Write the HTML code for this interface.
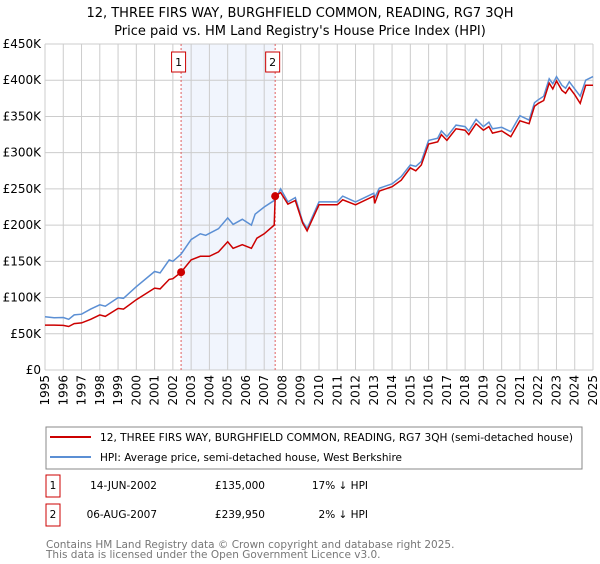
<!DOCTYPE html>
<html><head><meta charset="utf-8"><style>
body{margin:0;background:#fff;font-family:"DejaVu Sans","Liberation Sans",sans-serif;}
svg text{font-family:"DejaVu Sans","Liberation Sans",sans-serif;}
</style></head><body>
<svg id="c" width="600" height="560" xmlns="http://www.w3.org/2000/svg">
<text x="300" y="17" text-anchor="middle" font-size="13">12, THREE FIRS WAY, BURGHFIELD COMMON, READING, RG7 3QH</text>
<text x="300" y="35" text-anchor="middle" font-size="13">Price paid vs. HM Land Registry's House Price Index (HPI)</text>
<g id="plot"></g>
<g>
<rect x="46" y="427" width="536" height="42" fill="#fff" stroke="#888"/>
<line x1="50" y1="437" x2="91" y2="437" stroke="#cc0000" stroke-width="2"/>
<text x="100" y="441" font-size="10.5" textLength="473" lengthAdjust="spacingAndGlyphs">12, THREE FIRS WAY, BURGHFIELD COMMON, READING, RG7 3QH (semi-detached house)</text>
<line x1="50" y1="457" x2="91" y2="457" stroke="#5b8fd4" stroke-width="2"/>
<text x="100" y="461" font-size="10.5" textLength="302" lengthAdjust="spacingAndGlyphs">HPI: Average price, semi-detached house, West Berkshire</text>
</g>
<g font-size="10.5">
<rect x="46" y="475" width="14" height="22" fill="#fff" stroke="#cc0000"/>
<text x="53" y="489" text-anchor="middle">1</text>
<text x="157" y="489" text-anchor="end">14-JUN-2002</text>
<text x="265" y="489" text-anchor="end">£135,000</text>
<text x="368" y="489" text-anchor="end">17% ↓ HPI</text>
<rect x="46" y="504" width="14" height="22" fill="#fff" stroke="#cc0000"/>
<text x="53" y="518" text-anchor="middle">2</text>
<text x="157" y="518" text-anchor="end">06-AUG-2007</text>
<text x="265" y="518" text-anchor="end">£239,950</text>
<text x="368" y="518" text-anchor="end">2% ↓ HPI</text>
</g>
<text x="46" y="548" font-size="10.5" fill="#777">Contains HM Land Registry data © Crown copyright and database right 2025.</text>
<text x="46" y="558" font-size="10.5" fill="#777">This data is licensed under the Open Government Licence v3.0.</text>
</svg>
<script>
const yTicks=[0,50000,100000,150000,200000,250000,300000,350000,400000,450000];
const yTickLabels=["£0","£50K","£100K","£150K","£200K","£250K","£300K","£350K","£400K","£450K"];
const xYears=[1995,1996,1997,1998,1999,2000,2001,2002,2003,2004,2005,2006,2007,2008,2009,2010,2011,2012,2013,2014,2015,2016,2017,2018,2019,2020,2021,2022,2023,2024,2025];
const hpiT=[1995,1995.5,1996,1996.3,1996.6,1997,1997.5,1998,1998.3,1999,1999.3,2000,2001,2001.3,2001.8,2002,2002.45,2003,2003.5,2003.8,2004.5,2005,2005.3,2005.8,2006.3,2006.5,2007,2007.6,2007.9,2008.3,2008.7,2009.1,2009.35,2010,2011,2011.3,2012,2013,2013.05,2013.3,2014,2014.5,2015,2015.3,2015.6,2016,2016.5,2016.7,2017,2017.5,2018,2018.2,2018.6,2019,2019.3,2019.5,2020,2020.5,2021,2021.5,2021.8,2022,2022.3,2022.6,2022.8,2023,2023.3,2023.5,2023.7,2024,2024.3,2024.6,2025];
const hpiV=[73500,72000,72500,70000,76000,77000,84000,90000,88000,100000,99000,115000,136000,134000,152000,150000,160000,180000,188000,186000,195000,210000,201000,208000,200000,215000,225000,235000,250000,232000,238000,205000,195000,232000,232000,240000,232000,244000,238000,251000,257000,267000,283000,281000,288000,317000,320000,330000,322000,338000,336000,330000,346000,336000,342000,333000,335000,329000,351000,345000,369000,373000,378000,402000,395000,405000,393000,389000,398000,388000,378000,400000,405000];
const ppT=[1995,1995.5,1996,1996.3,1996.6,1997,1997.5,1998,1998.3,1999,1999.3,2000,2001,2001.3,2001.8,2002,2002.45,2003,2003.5,2004,2004.5,2005,2005.3,2005.8,2006.3,2006.6,2007,2007.55,2007.6,2007.9,2008.3,2008.7,2009.1,2009.35,2010,2011,2011.3,2012,2013,2013.05,2013.3,2014,2014.5,2015,2015.3,2015.6,2016,2016.5,2016.7,2017,2017.5,2018,2018.2,2018.6,2019,2019.3,2019.5,2020,2020.5,2021,2021.5,2021.8,2022,2022.3,2022.6,2022.8,2023,2023.3,2023.5,2023.7,2024,2024.3,2024.6,2025];
const ppV=[62000,62000,61500,60000,64000,65000,70000,76000,74000,85000,84000,97000,113000,112000,125000,126000,135000,152000,157000,157000,163000,177000,168000,173000,168000,182000,188000,200000,240000,245000,229000,234000,203000,192000,228000,228000,235000,228000,240000,230000,247000,253000,262000,279000,275000,283000,312000,315000,325000,317000,333000,331000,325000,340000,331000,336000,327000,330000,322000,344000,340000,364000,368000,372000,396000,388000,399000,386000,382000,390000,380000,368000,393000,393000];
const saleT=[2002.45,2007.6];
const saleV=[135000,239950];
const saleLabels=["1","2"];

const NS="http://www.w3.org/2000/svg";
const L=45,R=593,T=44,B=370;
const xS=t=>L+(t-1995)/(2025-1995)*(R-L);
const yS=v=>B-v/450000*(B-T);
const g=document.getElementById('plot');
function mk(tag,attrs,parent){const e=document.createElementNS(NS,tag);for(const k in attrs)e.setAttribute(k,attrs[k]);(parent||g).appendChild(e);return e;}
const shade=mk('rect',{x:xS(saleT[0]),y:T,width:xS(saleT[1])-xS(saleT[0]),height:B-T,fill:'#eef3fc',opacity:0.8});


yTicks.forEach((v,i)=>{
 const ln=mk('line',{x1:L,x2:R,y1:yS(v),y2:yS(v),stroke:'#ccc','stroke-width':1});
 
 
 const tx=mk('text',{x:L-4,y:yS(v)+4,'text-anchor':'end','font-size':12});
 tx.textContent=yTickLabels[i];
 
 
});
xYears.forEach(y=>{
 const ln=mk('line',{x1:xS(y),x2:xS(y),y1:T,y2:B,stroke:'#ccc','stroke-width':1});
 
 
 const tx=mk('text',{x:0,y:0,'text-anchor':'end','font-size':12,transform:`translate(${xS(y)+4},${B+5}) rotate(-90)`});
 tx.textContent=String(y);
 
 
});
saleT.forEach((t,i)=>{
 const ln=mk('line',{x1:xS(t),x2:xS(t),y1:T,y2:B,stroke:'#e06060','stroke-width':1,'stroke-dasharray':'2,2'});
 
 
 const bx=mk('rect',{x:xS(t)-9.5,y:52,width:14,height:20,fill:'#fff',stroke:'#cc0000'});
 
 
 const tx=mk('text',{x:xS(t)-2.5,y:66,'text-anchor':'middle','font-size':11});
 tx.textContent=saleLabels[i];
 
 
});
const hp=mk('path',{d:hpiT.map((t,i)=>(i?'L':'M')+xS(t).toFixed(1)+','+yS(hpiV[i]).toFixed(1)).join(''),fill:'none',stroke:'#5b8fd4','stroke-width':1.5});


const pp=mk('path',{d:ppT.map((t,i)=>(i?'L':'M')+xS(t).toFixed(1)+','+yS(ppV[i]).toFixed(1)).join(''),fill:'none',stroke:'#cc0000','stroke-width':1.5});


saleT.forEach((t,i)=>{
 const c=mk('circle',{cx:xS(t),cy:yS(saleV[i]),r:4,fill:'#cc0000'});
 
 
});
</script>
</body></html>
